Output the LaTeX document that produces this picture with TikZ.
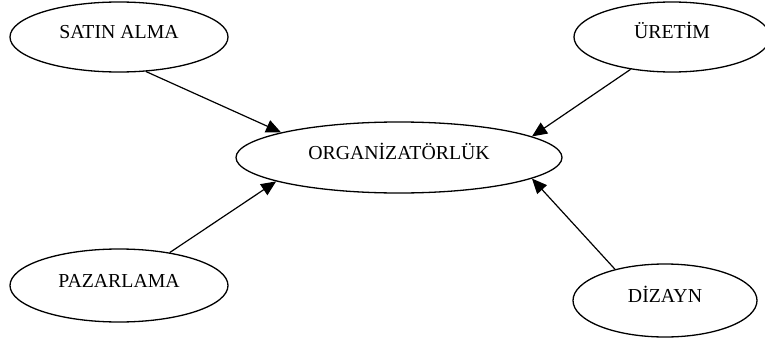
\documentclass[tikz,border=0pt]{standalone}
\usepackage{fontspec}
\setmainfont{Liberation Serif}
\usetikzlibrary{shapes.geometric,arrows.meta}

\tikzset{
  topic/.style={ellipse, draw, line width=1.3pt, inner sep=0pt,
    text height=14pt, text depth=10pt,
    font=\fontsize{19.8}{24}\selectfont},
  link/.style={line width=1.2pt, -{Triangle[length=15pt,width=13pt]}}
}

\begin{document}
\begin{tikzpicture}[x=1pt, y=-1pt]
  \useasboundingbox (0,0) rectangle (765,345);

  % central activity and the four feeding departments
  \node[topic, minimum width=326pt, minimum height=71pt] (org) at (399,157.5) {ORGANİZATÖRLÜK};
  \node[topic, minimum width=218pt, minimum height=70pt] (sa)  at (119,37)    {SATIN ALMA};
  \node[topic, minimum width=196pt, minimum height=70pt] (ur)  at (672,37)    {ÜRETİM};
  \node[topic, minimum width=218pt, minimum height=73pt] (pz)  at (119,285.5) {PAZARLAMA};
  \node[topic, minimum width=184pt, minimum height=73pt] (dz)  at (665,300.5) {DİZAYN};

  % every department points to the centre
  \draw[link] (sa.-52.6) -- (org.168.8);
  \draw[link] (ur.218)   -- (org.9.2);
  \draw[link] (pz.33.6)  -- (org.191);
  \draw[link] (dz.148.5) -- (org.-9.5);
\end{tikzpicture}
\end{document}
